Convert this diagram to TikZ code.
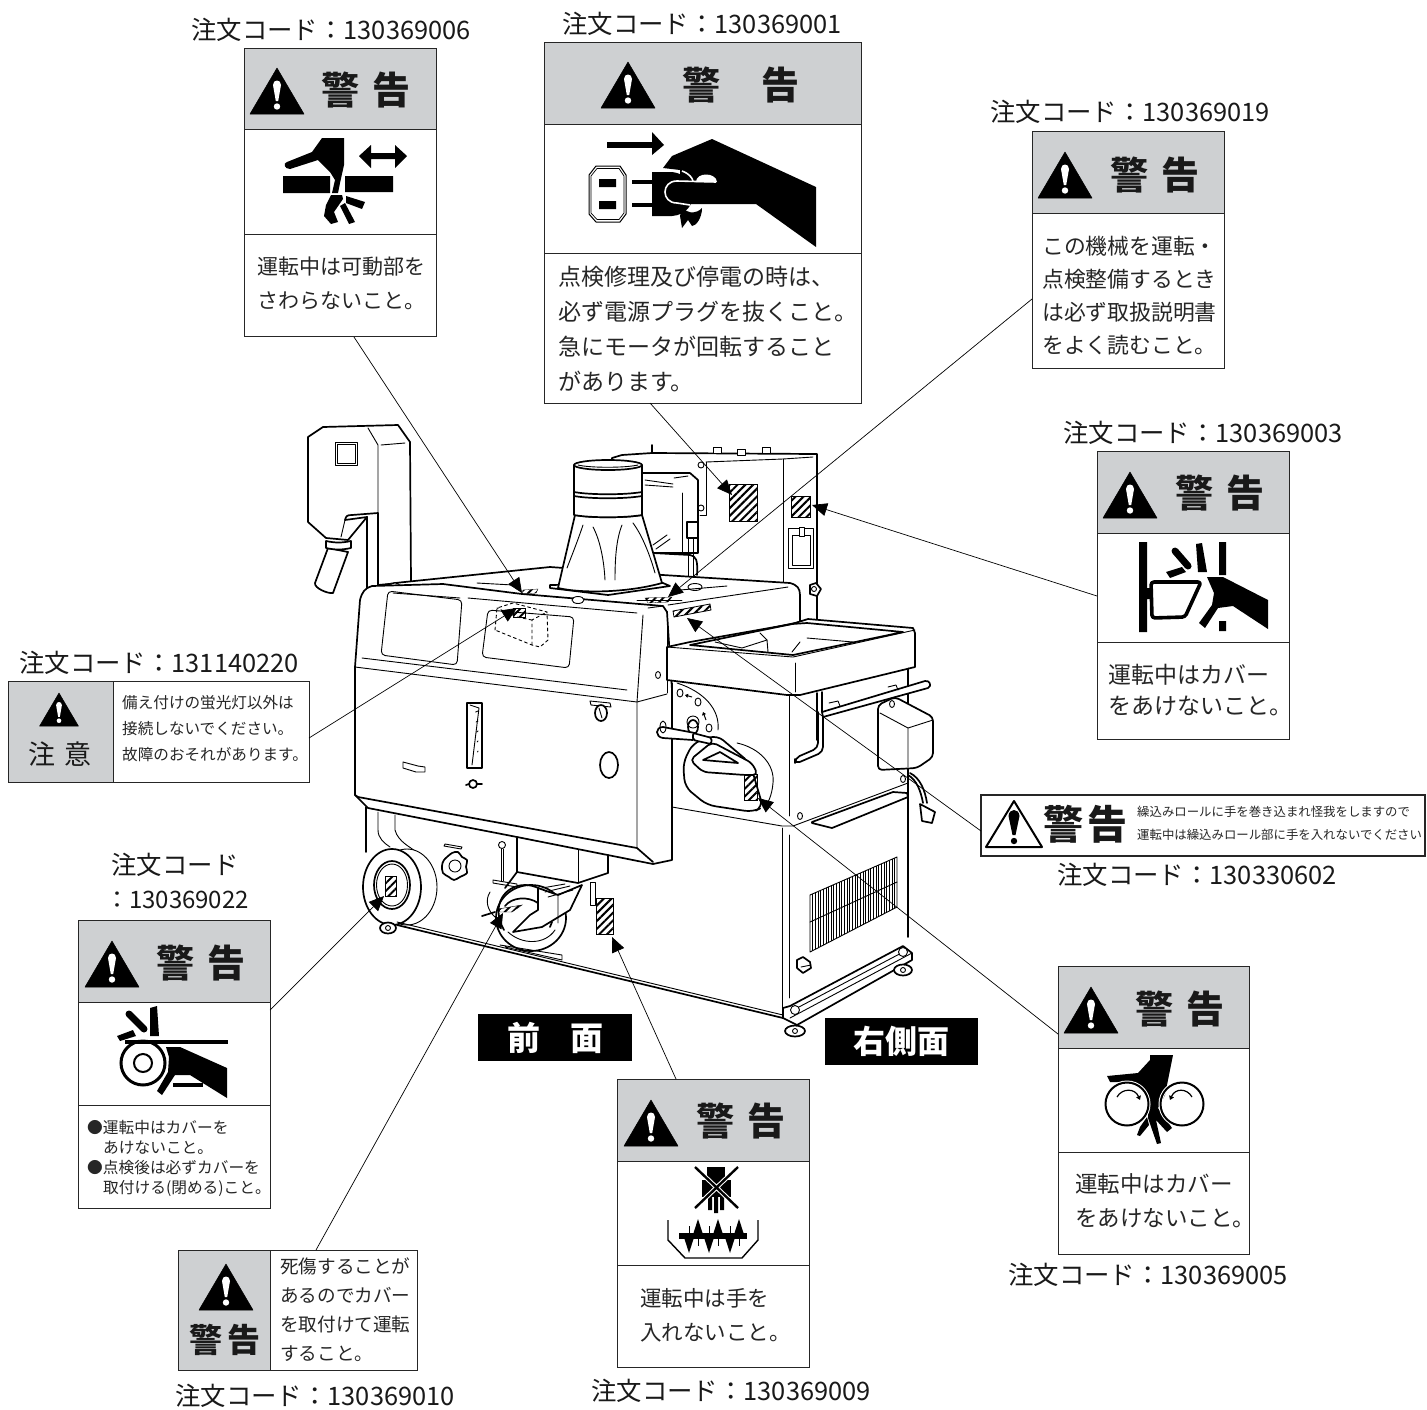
\documentclass[tikz,border=0pt]{standalone}
\usepackage{fontspec}
\setmainfont{Noto Sans CJK JP}
\usetikzlibrary{arrows.meta,fit,patterns.meta}
\definecolor{signgray}{RGB}{206,208,210}
\newcommand{\fsz}[1]{\fontsize{#1}{#1}\selectfont}

\begin{document}
\begin{tikzpicture}[
    x=1pt,y=-1pt,
    signbox/.style={draw=black!85,line width=1pt,inner sep=0pt,fill=none},
    signrule/.style={draw=black!85,line width=1pt},
    ordertxt/.style={font=\fsz{25.4},inner sep=0pt,text=black!90},
    bodytxt/.style={font=\fsz{23},align=left,anchor=north west,inner sep=0pt,text=black!85},
    headtxt/.style={font=\fsz{38}\bfseries,inner sep=0pt,text=black!90},
    blackbox/.style={fill=black,text=white,inner sep=0pt},
    mline/.style={line width=1.7pt,line join=round,line cap=round},
    tline/.style={line width=0.9pt,line join=round,line cap=round},
    wline/.style={mline,fill=white},
    hatchbox/.style={draw=black,line width=0.8pt,pattern={Lines[angle=45,distance=5.5pt,line width=2pt]}},
    myleader/.style={line width=0.7pt,-{Triangle[length=15pt,width=13pt]}},
    warntri/.pic={
        \fill[black,line join=round,draw=black,line width=0.5pt] (0,0) -- (27,46) -- (-27,46) -- cycle;
        \fill[white] (-4,17) .. controls (-4,11) and (4,11) .. (4,17) -- (1.2,33) -- (-1.2,33) -- cycle;
        \fill[white] (0,38.5) circle (3.2);
    }
    ]
    \useasboundingbox (0,0) rectangle (1427,1409);
    \fill[white] (0,0) rectangle (1427,1409);

    % elevator
    \draw[wline] (367,590) -- (367,517) (378,585) -- (378,513);
    \draw[wline] (308,522) -- (308,437) -- (323,427) -- (398,425) -- (410,442) -- (411,582) -- (378,585) -- (378,513) -- (352,515) .. controls (347,515) and (346,516) .. (345,520) -- (367,517) -- (348,540) -- (326,538) -- cycle;
    \draw[mline] (367,517) -- (367,590);
    \draw[tline] (345,520) -- (341,537);
    \draw[tline] (368,428) -- (378,445) -- (378,513);
    \draw[tline] (381,445) -- (405,443);
    \draw[tline] (335,442) rectangle (357,465) (337,444) rectangle (355,463);
    \draw[mline,fill=white] (328,548) -- (315,583) .. controls (314,588) and (328,594) .. (333,593) -- (348,552) -- cycle;
    \draw[wline] (326,541) .. controls (335,543) and (342,543) .. (351,541) -- (351,548) .. controls (342,550) and (335,550) .. (326,548) -- cycle;

    % rear box
    \draw[wline] (612,458) -- (622,455) -- (652,453) -- (817,454) -- (817,622) -- (612,622) -- cycle;
    \draw[tline] (706,462) -- (783,459) -- (813,457);
    \draw[tline] (783,459) -- (783,583);
    \draw[tline] (706,462) -- (706,515) -- (700,515);
    \foreach \ky in {465,508} \draw[tline] (701,\ky) circle (3);
    \foreach \kx/\ky in {717/450,741/452,766/450} \draw[tline,fill=white] (\kx-4,\ky-3) rectangle (\kx+4,\ky+3);
    \draw[mline] (652,445) -- (652,453);
    \draw[mline,fill=white] (625,473) -- (690,473) -- (698,480) -- (698,553) -- (625,553) -- cycle;
    \draw[tline] (645,480) -- (673,484) (645,485) -- (673,487) (674,478) -- (688,476);
    \draw[tline] (682,493) -- (682,553);
    \draw[mline,fill=white] (687,522) rectangle (698,538);
    \draw[tline] (688,538) -- (688,577) (693,538) -- (693,577);
    \draw[mline] (653,553) -- (690,555) .. controls (696,556) and (698,560) .. (697,575);
    \draw[tline] (653,545) -- (667,535) (656,549) -- (670,539);
    \draw[hatchbox] (729,484) rectangle (757,521);
    \draw[hatchbox] (791,496) rectangle (810,517);
    \draw[tline] (788,528) rectangle (813,568) (792,535) rectangle (810,565);
    \draw[tline,fill=white] (799,527) rectangle (804,536);
    \draw[mline,fill=white] (810,585) -- (816,583) -- (821,589) -- (817,596) -- (810,594) -- cycle;
    \draw[tline] (814,589) circle (2.5);

    % top plate
    \draw[wline] (368,588) -- (395,583) -- (550,567) -- (663,575) -- (790,583) .. controls (797,585) and (800,588) .. (800,595) -- (800,622) -- (667,650) -- (667,612) -- (368,600) -- cycle;
    \draw[tline] (477,583) -- (513,585);
    \draw[tline,fill=white] (395,586) ellipse (5 and 3);
    \draw[hatchbox,line width=0.3pt] (523,590) -- (538,589) -- (536,593) -- (522,594) -- cycle;
    \draw[tline] (668,605) -- (788,587);
    \draw[tline,fill=white] (695,587) ellipse (7 and 3.5);
    \draw[tline] (680,590) -- (727,586);
    \draw[tline] (637,600) -- (682,600);
    \draw[hatchbox,line width=0.3pt] (645,598) -- (672,597) -- (668,602) -- (648,603) -- cycle;
    \draw[hatchbox] (673,611) -- (710,604) -- (711,610) -- (674,617) -- cycle;

    % duct
    \draw[wline] (550,588) -- (608,595) -- (670,586) -- (663,583) -- (550,585) -- cycle;
    \draw[wline] (558,588) -- (575,515) .. controls (590,518) and (625,518) .. (642,515) -- (662,583) .. controls (630,592) and (585,594) .. (558,588) -- cycle;
    \draw[wline] (574,465) -- (574,515) .. controls (590,518) and (625,518) .. (642,515) -- (642,465) -- cycle;
    \draw[wline] (608,465) ellipse (34 and 5);
    \draw[tline] (578,465) .. controls (590,468) and (625,468) .. (638,465);
    \draw[mline] (574,492) .. controls (590,495) and (625,495) .. (642,492);
    \draw[mline] (574,496) .. controls (590,499) and (625,499) .. (642,496);
    \draw[tline] (583,525) .. controls (578,540) and (572,555) .. (567,568);
    \draw[tline] (593,527) .. controls (600,540) and (604,560) .. (605,580);
    \draw[tline] (622,525) .. controls (616,540) and (615,560) .. (615,580);
    \draw[tline] (633,523) .. controls (642,535) and (650,555) .. (655,573);

    % front panel
    \draw[wline] (372,586) -- (443,584) -- (522,594) -- (663,606) -- (667,612) -- (672,690) -- (672,860) -- (653,864) -- (517,837) -- (368,808) -- (355,795) -- (355,667) -- (360,600) .. controls (362,592) and (365,588) .. (372,586) -- cycle;
    \draw[tline] (393,593) -- (460,598) (468,598) -- (637,613) (648,608) -- (663,606);
    \draw[tline] (667,612) -- (667,693);
    \draw[tline] (643,615) -- (637,702) -- (637,848);
    \draw[tline] (362,658) -- (627,690) (355,667) -- (637,702) -- (667,694);
    \draw[mline] (355,795) -- (358,797) -- (637,848) -- (653,862);
    \draw[tline,rounded corners=4pt] (388,591) -- (462,600) -- (457,665) -- (381,655) -- cycle;
    \draw[tline,rounded corners=4pt] (488,610) -- (574,617) -- (569,668) -- (482,657) -- cycle;
    \draw[tline,dashed] (495,630) -- (497,608) -- (513,603) -- (547,612) -- (548,640) -- (540,647) -- (532,645) -- (495,630);
    \draw[tline,dashed] (532,645) -- (532,620) -- (547,612) (532,620) -- (517,617) -- (497,608);
    \draw[hatchbox,line width=0.5pt] (513,608) rectangle (525,617);
    \draw[tline,fill=white] (578,600) ellipse (6 and 3.5);
    \draw[tline,fill=white] (658,675) ellipse (2.5 and 3.5);

    % front details
    \draw[mline] (467,703) rectangle (482,768);
    \draw[tline] (470,705) -- (479,708) -- (472,765);
    \foreach \ky in {712,722,732,742,752} \draw[tline] (\ky/20+440,\ky) -- (478,\ky-1);
    \draw[tline] (403,762) -- (418,766) -- (425,767) -- (425,772) -- (416,772) -- (403,768) -- cycle;
    \draw[mline] (473,784) circle (4) (466,785) -- (469,784) (477,784) -- (482,784);
    \draw[tline] (590,701) -- (610,703) -- (611,707) -- (591,705) -- cycle;
    \draw[mline,fill=white] (601,713) ellipse (6 and 8);
    \draw[tline] (599,708) -- (602,718);
    \draw[mline] (609,765) ellipse (9 and 13);

    % blower
    \draw[mline] (366,807) -- (366,852);
    \draw[tline] (378,812) -- (378,830) .. controls (378,838) and (384,843) .. (390,847);
    \draw[tline] (395,815) -- (395,830) .. controls (398,842) and (412,848) .. (418,853);
    \draw[tline,fill=white] (407,887) ellipse (30 and 38);
    \draw[mline,fill=white] (392,887) ellipse (29 and 38);
    \draw[mline] (392,885) ellipse (18 and 24);
    \draw[tline] (392,885) ellipse (15.5 and 21);
    \draw[hatchbox,line width=0.5pt] (385,876) rectangle (396,896);
    \draw[tline] (445,844) -- (462,847) -- (461,849) -- (444,846) -- cycle;
    \draw[mline] plot[smooth cycle] coordinates {(452,853) (458,852) (462,857) (467,860) (466,867) (467,873) (460,877) (454,880) (449,877) (443,873) (442,866) (444,860)};
    \draw[tline] (455,866) circle (6);

    % lower unit
    \draw[tline] (502,845) circle (3.5);
    \draw[tline] (501,849) -- (501,881) (503,849) -- (503,881);
    \draw[tline] (493,880) -- (517,884) -- (517,887) -- (493,883) -- cycle;
    \draw[mline] (517,838) -- (517,872) -- (578,883) -- (608,873) -- (608,855);
    \draw[tline] (578,850) -- (578,883);
    \draw[mline] (517,872) -- (505,888);
    \draw[mline,fill=white] (531,918) ellipse (35 and 33);
    \draw[mline] (504,930) .. controls (490,905) and (505,885) .. (525,885) .. controls (535,885) and (545,890) .. (552,900);
    \draw[tline] (508,932) .. controls (522,945) and (545,945) .. (555,930);
    \draw[mline,fill=white] (538,888) -- (558,895) -- (582,885) -- (570,910) -- (542,927) -- (513,932) -- (530,915) -- (538,910) -- cycle;
    \draw[mline] (505,906) .. controls (512,897) and (528,896) .. (538,903);
    \draw[tline] (558,895) -- (558,923) (545,892) -- (570,886) (542,888) -- (565,884) (548,897) -- (573,890);
    \draw[hatchbox,line width=0.4pt] (498,909) -- (522,905) -- (512,912) -- (500,912) -- cycle;
    \draw[tline] (490,892) .. controls (485,900) and (487,910) .. (495,917);
    \draw[mline] (482,916) -- (495,912);
    \draw[tline] (500,945) -- (562,955) -- (562,960) -- (505,947);
    \draw[tline,fill=white] (590,882) rectangle (595,905);
    \draw[hatchbox] (596,898) rectangle (613,934);
    \draw[mline] (550,927) -- (552,922);

    % base and lower box
    \draw[tline] (672,807) -- (782,826) -- (793,826) -- (908,783);
    \draw[mline] (397,925) -- (783,1018);
    \draw[tline] (397,922) -- (783,1015);
    \draw[tline] (782,828) -- (782,1008);
    \draw[tline] (789,835) -- (789,998);
    \draw[tline] (789,690) -- (789,816);
    \draw[mline] (908,668) -- (908,937);
    \draw[mline] (783,1008) -- (790,1006) -- (903,946) -- (912,953) -- (912,960) -- (797,1025) -- (783,1018) -- cycle;
    \draw[tline] (797,1008) -- (907,950) (790,1018) -- (912,953);
    \foreach \kx/\ky in {795/1010,903/952} \draw[tline,fill=white] (\kx,\ky) circle (4.5);
    \foreach \kx/\ky/\kr in {795/1031/10,903/970/9,388/928/8} {
        \draw[mline,fill=white] (\kx,\ky) ellipse (\kr pt and 5.5pt);
        \draw[tline] (\kx,\ky) circle (2.5);
    }
    \draw[mline,fill=white] (803,957) -- (810,962) -- (811,968) -- (803,973) -- (797,968) -- (797,960) -- cycle;
    \draw[tline] (801,967) -- (811,965);
    \draw[tline,fill=white] (800,816) ellipse (2.5 and 3.5);

    % grille
    \draw[tline] (810,895) -- (897,857) -- (897,907) -- (810,952) -- cycle;
    \draw[tline] (810,922) -- (897,882);
    \foreach \k in {1,...,32} {
        \draw[line width=0.6pt] (810+\k*2.64,895-\k*1.15) -- (810+\k*2.64,952-\k*1.36);
    }

    % shelf
    \draw[mline,fill=white] (812,822) -- (893,792) -- (907,793) -- (908,797) -- (832,828) -- (812,823) -- cycle;

    % tray
    \draw[wline] (667,647) -- (690,642) -- (792,624) -- (808,619) -- (913,628) -- (915,633) -- (915,667) -- (800,695) -- (787,695) -- (667,680) -- cycle;
    \draw[tline] (667,647) -- (793,657) -- (915,630);
    \draw[mline] (690,645) -- (793,655) -- (903,632) -- (807,623) -- (792,624) -- cycle;
    \draw[tline] (715,642) -- (742,648) -- (767,640) -- (760,633);
    \draw[tline] (767,640) -- (768,652);
    \draw[tline] (807,638) -- (853,642) (800,642) -- (792,652);
    \draw[tline] (795,663) -- (795,692);
    \draw[mline] (817,693) -- (817,740) (822,692) -- (822,715);
    \draw[tline] (908,668) -- (908,690);

    % disc
    \draw[tline] (672,683) -- (672,700);
    \draw[tline] (677,683) .. controls (705,692) and (720,710) .. (718,730);
    \foreach \kx/\ky in {680/693,698/702,709/728} \draw[tline] (\kx,\ky) ellipse (3 and 4);
    \draw[black,-{Triangle[length=3pt,width=4pt]},line width=1pt] (692,697) -- (685,695);
    \draw[black,-{Triangle[length=3pt,width=4pt]},line width=1pt] (706,720) -- (703,712);
    \draw[tline,fill=white] (693,722) circle (6);
    \draw[mline] (693,727) ellipse (5 and 7);

    % handle
    \draw[wline] (663,727) -- (695,733) -- (693,740) -- (663,738) .. controls (655,737) and (655,727) .. (663,727) -- cycle;
    \draw[tline] (663,727) ellipse (3 and 6);
    \draw[tline] (737,743) .. controls (760,748) and (775,765) .. (773,783) .. controls (772,795) and (768,805) .. (763,807);
    \draw[mline,fill=white,rounded corners=8pt] (683,763) -- (693,743) -- (717,735) -- (750,763) -- (763,807) -- (753,812) -- (707,805) -- (685,787) -- cycle;
    \draw[mline,fill=white,rounded corners=5pt] (690,760) -- (712,742) -- (752,763) -- (758,775) -- (745,775) -- (703,772) -- cycle;
    \draw[mline] (703,760) -- (720,752) -- (738,763) -- cycle;
    \draw[mline,fill=white,rounded corners=2pt] (693,733) -- (712,738) -- (711,744) -- (693,740) -- cycle;
    \draw[hatchbox] (744,774) rectangle (757,800);

    % pipe and control box
    \draw[wline,rounded corners=5pt] (818,712) -- (818,748) -- (795,758) -- (795,764) -- (823,752) -- (823,712);
    \draw[wline] (822,712) -- (925,681) .. controls (930,680) and (932,686) .. (928,688) -- (823,717) -- cycle;
    \draw[tline] (829,703) -- (838,701) -- (840,706) (888,687) -- (896,685) -- (898,690);
    \draw[wline,rounded corners=4pt] (878,705) -- (895,697) -- (933,717) -- (933,757) -- (917,768) -- (878,770) -- cycle;
    \draw[tline] (880,713) -- (908,728) -- (933,720) (908,728) -- (908,767);
    \draw[tline,fill=white] (892,704) ellipse (2.5 and 3.5);
    \draw[tline,fill=white] (903,779) ellipse (2.5 and 3.5);
    \draw[mline] (908,775) .. controls (917,780) and (921,792) .. (923,803) (910,773) .. controls (920,778) and (925,790) .. (927,803);
    \draw[mline,fill=white] (920,804) -- (935,812) -- (932,823) -- (922,821) -- cycle;

    % sign boxes
    \foreach \nm/\xa/\ya/\xb/\yb/\yh/\yi in {%
        s006/244/48/436/336/129/234,
        s001/544/42/861/403/124/253,
        s019/1032/131/1224/368/213/213,
        s003/1097/451/1289/739/533/642,
        s022/78/920/270/1208/1002/1105,
        s009/617/1079/809/1367/1161/1265,
        s005/1058/966/1249/1254/1048/1152}{
        \fill[white] (\xa,\ya) rectangle (\xb,\yb);
        \fill[signgray] (\xa,\ya) rectangle (\xb,\yh);
        \node[signbox,fit={(\xa,\ya) (\xb,\yb)}] (\nm) {};
        \draw[signrule] (\xa,\yh) -- (\xb,\yh) (\xa,\yi) -- (\xb,\yi);
    }
    \fill[signgray] (8,681) rectangle (113,782);
    \node[signbox,fit={(8,681) (309,782)}] (s220) {};
    \draw[signrule] (113,681) -- (113,782);
    \fill[signgray] (178,1250) rectangle (270,1370);
    \node[signbox,fit={(178,1250) (417,1370)}] (s010) {};
    \draw[signrule] (270,1250) -- (270,1370);
    \node[signbox,line width=1.3pt,fit={(981,795) (1425,856)}] (s602) {};

    % warning marks
    \foreach \kx/\ky in {277/68,628/62,1065/152,1130/472,112/941,651/1100,1091/987,226/1264}
        \pic at (\kx,\ky) {warntri};
    \pic[scale=0.72] at (59,693) {warntri};
    \draw[black,line width=2pt,line join=round] (1014,801) -- (1042,847) -- (986,847) -- cycle;
    \fill[black] (1008.5,816) .. controls (1009,808) and (1019,808) .. (1019.5,816) -- (1015.5,835) -- (1012.5,835) -- cycle;
    \fill[black] (1014,841) circle (3.2);

    % heads
    \node[headtxt] (h006) at (366,90) {警\hspace{14pt}告};
    \node[headtxt] (h001) at (741,85) {警\hspace{42pt}告};
    \node[headtxt] (h019) at (1155,175) {警\hspace{14pt}告};
    \node[headtxt] (h003) at (1220,493) {警\hspace{14pt}告};
    \node[headtxt] (h022) at (201,963) {警\hspace{14pt}告};
    \node[headtxt] (h009) at (741,1121) {警\hspace{14pt}告};
    \node[headtxt] (h005) at (1180,1009) {警\hspace{14pt}告};
    \node[headtxt,font=\fsz{33}\bfseries] (h010) at (225,1340) {警\hspace{6pt}告};
    \node[headtxt,font=\fsz{27}] (h220) at (60,754) {注\hspace{10pt}意};
    \node[headtxt,font=\fsz{40}\bfseries] (h602) at (1085,824) {警\hspace{4pt}告};

    % body text
    \node[bodytxt,font=\fsz{21}] (t006) at (257,257) {運転中は可動部を\\[13pt]さわらないこと。};
    \node[bodytxt] (t001) at (558,266) {点検修理及び停電の時は、\\[12pt]必ず電源プラグを抜くこと。\\[12pt]急にモータが回転すること\\[12pt]があります。};
    \node[bodytxt,font=\fsz{21.8}] (t019) at (1042,236) {この機械を運転・\\[11.2pt]点検整備するとき\\[11.2pt]は必ず取扱説明書\\[11.2pt]をよく読むこと。};
    \node[bodytxt] (t003) at (1108,664) {運転中はカバー\\[8pt]をあけないこと。};
    \node[bodytxt,font=\fsz{15.6}] (t220) at (122,695) {備え付けの蛍光灯以外は\\[10.6pt]接続しないでください。\\[10.6pt]故障のおそれがあります。};
    \node[bodytxt,font=\fsz{12.4}] (t602) at (1137,806) {繰込みロールに手を巻き込まれ怪我をしますので\\[10pt]運転中は繰込みロール部に手を入れないでください};
    \node[bodytxt,font=\fsz{15.7}] (t022) at (87,1120) {●運転中はカバーを\\[4.3pt]\hspace*{16pt}あけないこと。\\[4.3pt]●点検後は必ずカバーを\\[4.3pt]\hspace*{16pt}取付ける(閉める)こと。};
    \node[bodytxt,font=\fsz{18.6}] (t010) at (280,1258) {死傷することが\\[10.4pt]あるのでカバー\\[10.4pt]を取付けて運転\\[10.4pt]すること。};
    \node[bodytxt,font=\fsz{21.5}] (t009) at (640,1288) {運転中は手を\\[12.5pt]入れないこと。};
    \node[bodytxt,font=\fsz{22.5}] (t005) at (1075,1173) {運転中はカバー\\[11.5pt]をあけないこと。};

    % order labels
    \foreach \nm/\kx/\ky/\code in {%
        c006/331/30/130369006,
        c001/702/24/130369001,
        c019/1130/112/130369019,
        c003/1203/433/130369003,
        c220/159/663/131140220,
        c602/1197/875/130330602,
        c005/1148/1275/130369005,
        c010/315/1396/130369010,
        c009/731/1391/130369009}
        \node[ordertxt] (\nm) at (\kx,\ky) {注文コード：\code};
    \node[ordertxt] (c022a) at (175,865) {注文コード};
    \node[ordertxt,font=\fsz{24}] (c022b) at (177,900) {：130369022};

    \node[blackbox,fit={(478,1014) (632,1061)}] (b1) {};
    \node[text=white,font=\fsz{33}\bfseries,inner sep=0pt] (b1t) at (b1) {前\hspace{30pt}面};
    \node[blackbox,fit={(825,1018) (978,1065)}] (b2) {};
    \node[text=white,font=\fsz{32}\bfseries,inner sep=0pt] (b2t) at (b2) {右側面};

    % icon 006
    \fill[black] (322,138) -- (344,138) -- (344,165) -- (340,183) -- (338,193) -- (332,193) -- (335,180) -- (330,172) -- (318,160) -- (290,169) .. controls (284,169) and (283,163) .. (287,162) -- (312,152) -- cycle;
    \fill[black] (283,176) rectangle (330,193) (345,176) rectangle (393,192);
    \fill[black] (331,195) -- (342,195) -- (343,199) -- (334,212) -- (338,222) -- (331,224) -- (324,216) -- (326,205) -- cycle;
    \fill[black] (340,206) -- (345,203) -- (355,222) -- (349,224) -- cycle;
    \fill[black] (346,196) -- (365,202) -- (362,209) -- (346,203) -- cycle;
    \fill[black] (359,156) -- (371,145) -- (371,153) -- (395,153) -- (395,145) -- (407,156) -- (395,168) -- (395,159) -- (371,159) -- (371,168) -- cycle;

    % icon 001
    \fill[black] (607,142) rectangle (652,148);
    \fill[black] (652,132) -- (664,145) -- (652,155) -- cycle;
    \fill[black] (663,168) -- (672,156) -- (712,139) -- (816,187) -- (816,247) -- (756,204) -- (680,204) -- (680,170) -- cycle;
    \fill[black] (652,172) -- (672,172) .. controls (700,175) and (700,214) .. (672,216) -- (652,216) -- cycle;
    \fill[black] (682,208) .. controls (690,214) and (696,214) .. (702,208) .. controls (702,218) and (696,226) .. (692,226) -- (688,220) -- (682,228) -- (680,216) -- cycle;
    \draw[white,line width=1.6pt] (716,182) -- (677,181) .. controls (661,181) and (661,203) .. (677,203) -- (690,205);
    \draw[white,line width=1.6pt] (682,171) .. controls (690,174) and (692,178) .. (693,181);
    \fill[white] (696,182) .. controls (696,172) and (716,172) .. (717,182) -- cycle;
    \draw[black,line width=1pt] (589,175) -- (596,166) -- (620,166) -- (626,175) -- (626,214) -- (620,222) -- (596,222) -- (589,214) -- cycle;
    \draw[black,line width=0.7pt] (591,176) -- (597,168.5) -- (619,168.5) -- (624,176) -- (624,213) -- (619,219.5) -- (597,219.5) -- (591,213) -- cycle;
    \fill[black] (599,179) rectangle (616,187) (599,201) rectangle (616,209);
    \draw[black,line width=3.2pt] (632,182) -- (652,182) (632,205) -- (652,205);

    % icon 022
    \draw[black,line width=3pt] (143,1063) circle (22);
    \draw[black,line width=2pt] (143,1063) circle (9);
    \draw[black,line width=3.4pt] (125,1042) -- (228,1042);
    \fill[black] (180,1047) -- (227,1068) -- (227,1098) -- (190,1075) -- (175,1075) -- (162,1095) -- (157,1091) -- (168,1072) -- (169,1057) -- (166,1047) -- cycle;
    \draw[black,line width=3.4pt] (173,1085) -- (203,1085);
    \draw[black,line width=7pt,line cap=round] (129,1014) -- (144,1029);
    \fill[black] (150,1008) -- (157,1006) -- (159,1036) -- (150,1036) -- cycle;
    \fill[black] (117,1036) -- (133,1030) -- (136,1036) -- (120,1041) -- cycle;

    % icon 003
    \fill[black] (1139,542) rectangle (1147,632) (1147,588) rectangle (1151,599);
    \draw[black,line width=3.6pt,line join=round,rounded corners=3pt] (1151,582) -- (1201,582) -- (1185,617) -- (1152,618) -- cycle;
    \fill[black] (1219,542) rectangle (1226,575) (1219,621) rectangle (1226,631);
    \draw[black,line width=7pt,line cap=round] (1175,551) -- (1188,566);
    \fill[black] (1196,544) -- (1202,543) -- (1207,572) -- (1198,572) -- cycle;
    \fill[black] (1166,572) -- (1182,567) -- (1186,572) -- (1170,578) -- cycle;
    \fill[black] (1207,577) -- (1223,577) -- (1268,600) -- (1268,629) -- (1233,606) -- (1218,608) -- (1205,628) -- (1199,623) -- (1212,605) -- (1214,593) -- cycle;

    % icon 005
    \fill[black] (1150,1055) -- (1173,1055) -- (1165,1095) -- (1158,1108) -- (1172,1128) -- (1167,1132) -- (1156,1120) -- (1161,1143) -- (1157,1144) -- (1148,1118) -- (1148,1100) -- (1145,1090) -- (1134,1082) -- (1110,1082) -- (1107,1076) -- (1138,1073) -- (1150,1060) -- cycle;
    \fill[black] (1147,1117) -- (1149,1125) -- (1140,1136) -- (1137,1135) -- (1140,1127) -- cycle;
    \draw[white,line width=4pt] (1127,1104) circle (21.5) (1182,1104) circle (21.5);
    \draw[black,line width=2pt] (1127,1104) circle (21.5) (1182,1104) circle (21.5);
    \draw[black,line width=1.2pt,-{Triangle[length=4pt,width=5pt]}] (1117,1097) .. controls (1122,1088) and (1135,1088) .. (1140,1100);
    \draw[black,line width=1.2pt,-{Triangle[length=4pt,width=5pt]}] (1192,1097) .. controls (1187,1088) and (1175,1088) .. (1170,1100);

    % icon 009
    \fill[black] (707,1167) rectangle (725,1180);
    \fill[black] (702,1180) rectangle (731,1197);
    \fill[black] (708,1197) rectangle (712,1210) (714,1197) rectangle (718,1213) (720,1197) rectangle (724,1210);
    \draw[white,line width=4.5pt] (695,1167) -- (738,1208) (738,1167) -- (695,1208);
    \draw[black,line width=2.4pt] (695,1167) -- (738,1208) (738,1167) -- (695,1208);
    \draw[black,line width=1.4pt] (668,1220) -- (668,1240) -- (685,1258) -- (742,1258) -- (758,1240) -- (758,1220);
    \fill[black] (679,1233) rectangle (747,1239);
    \foreach \kx in {698,718,739} {
        \fill[black] (\kx,1219) -- (\kx+4.5,1233) -- (\kx-4.5,1233) -- cycle;
        \draw[black,line width=1pt] (\kx,1233) -- (\kx,1246);
    }
    \foreach \kx in {689,709,730} {
        \fill[black] (\kx,1253) -- (\kx+4.5,1239) -- (\kx-4.5,1239) -- cycle;
        \draw[black,line width=1pt] (\kx,1239) -- (\kx,1226);
    }

    % leaders
    \foreach \nm/\xa/\ya/\xb/\yb in {%
        l006/354/337/522/593,
        l001/650/403/732/495,
        l019/1032/299/668/597,
        l003/1097/596/812/505,
        l602/981/831/687/618,
        l005/1058/1034/758/798,
        l009/676/1079/612/937,
        l010/316/1250/503/913,
        l022/270/1010/384/896,
        l220/309/738/517/608}{
        \coordinate (\nm a) at (\xa,\ya);
        \coordinate (\nm b) at (\xb,\yb);
        \draw[myleader] (\nm a) -- (\nm b);
    }
\end{tikzpicture}
\end{document}
